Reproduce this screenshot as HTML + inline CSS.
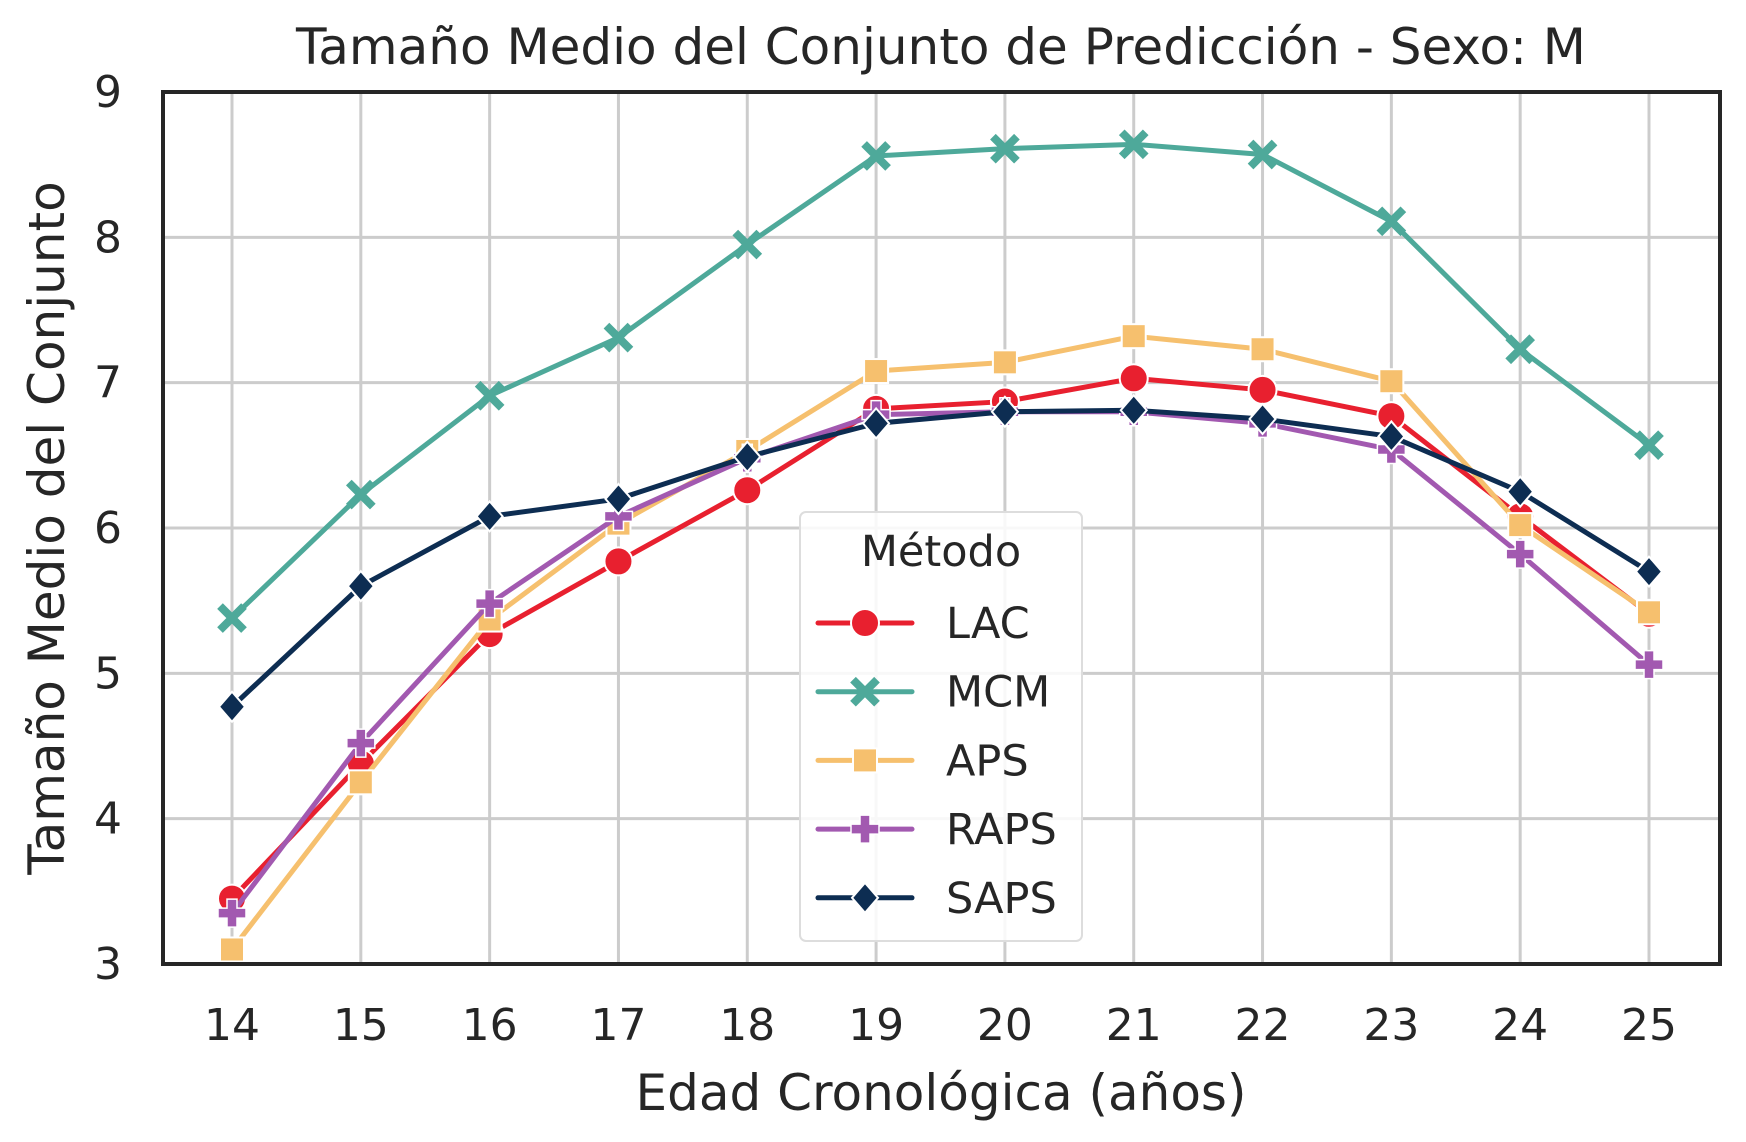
<!DOCTYPE html>
<html><head><meta charset="utf-8"><style>
body{margin:0;background:#fff}
svg{display:block;font-family:"DejaVu Sans","Liberation Sans",sans-serif}
</style></head><body>
<svg id="chart" width="1746" height="1142" viewBox="0 0 1746 1142">
<g id="grid"></g>
<g id="series"></g>
<rect x="163" y="92" width="1557" height="872" fill="none" stroke="#262626" stroke-width="4"/>
<g id="ticks"></g>
<text x="941" y="64" text-anchor="middle" font-size="50" fill="#262626">Tamaño Medio del Conjunto de Predicción - Sexo: M</text>
<text x="941" y="1110" text-anchor="middle" font-size="50" fill="#262626">Edad Cronológica (años)</text>
<text transform="translate(64,528) rotate(-90)" text-anchor="middle" font-size="50" fill="#262626">Tamaño Medio del Conjunto</text>
<g id="legend">
<rect x="800" y="512" width="282" height="429" rx="6" fill="#fff" fill-opacity="0.85" stroke="#ddd" stroke-width="2"/>
<text x="941" y="566" text-anchor="middle" font-size="43" fill="#262626">Método</text>
</g>
</svg>
<script>
const categories=[14,15,16,17,18,19,20,21,22,23,24,25];
const yTicks=[3,4,5,6,7,8,9];
const lac=[3.45,4.38,5.27,5.77,6.26,6.82,6.87,7.03,6.95,6.77,6.08,5.41];
const mcm=[5.38,6.23,6.91,7.31,7.95,8.56,8.61,8.64,8.57,8.11,7.23,6.57];
const aps=[3.1,4.25,5.37,6.03,6.53,7.08,7.14,7.32,7.23,7.01,6.02,5.42];
const raps=[3.35,4.52,5.48,6.08,6.48,6.78,6.8,6.8,6.72,6.54,5.82,5.06];
const saps=[4.77,5.6,6.08,6.2,6.49,6.72,6.8,6.81,6.75,6.63,6.25,5.7];
const seriesNames=["LAC","MCM","APS","RAPS","SAPS"];
const NS="http://www.w3.org/2000/svg";
const X=v=>232+(v-14)*(1649-232)/11;
const Y=v=>964-(v-3)*(872/6);
function mk(tag,attrs,parent){const e=document.createElementNS(NS,tag);for(const k in attrs)e.setAttribute(k,attrs[k]);parent.appendChild(e);return e;}
const grid=document.getElementById('grid'),ticks=document.getElementById('ticks');
categories.forEach(c=>{
  const l=mk('line',{x1:X(c),x2:X(c),y1:92,y2:964,stroke:'#cccccc','stroke-width':3},grid);
  
  
  const t=mk('text',{x:X(c),y:1040,'text-anchor':'middle','font-size':44,fill:'#262626'},ticks);
  t.textContent=c;
  
  
});
yTicks.forEach(v=>{
  const l=mk('line',{x1:163,x2:1720,y1:Y(v),y2:Y(v),stroke:'#cccccc','stroke-width':3},grid);
  
  
  const t=mk('text',{x:122,y:Y(v)+15,'text-anchor':'end','font-size':44,fill:'#262626'},ticks);
  t.textContent=v;
  
  
});
const colors=['#e8202f','#4ea99a','#f6c06e','#a259b0','#0d2d52'];
const shapes=['circle','x','square','plus','diamond'];
function marker(shape,cx,cy,col,g){
  let e;
  if(shape==='circle')e=mk('circle',{cx,cy,r:14,fill:col,stroke:'#fff','stroke-width':2},g);
  else if(shape==='square')e=mk('rect',{x:cx-12,y:cy-12,width:24,height:24,fill:col,stroke:'#fff','stroke-width':2},g);
  else if(shape==='diamond')e=mk('path',{d:`M${cx} ${cy-15}L${cx+13} ${cy}L${cx} ${cy+15}L${cx-13} ${cy}Z`,fill:col,stroke:'#fff','stroke-width':2},g);
  else if(shape==='plus')e=mk('path',{d:`M${cx-5} ${cy-14}h10v9h9v10h-9v9h-10v-9h-9v-10h9Z`,fill:col,stroke:'#fff','stroke-width':1.5},g);
  else e=mk('path',{d:`M${cx-12} ${cy-12}L${cx+12} ${cy+12}M${cx+12} ${cy-12}L${cx-12} ${cy+12}`,stroke:col,'stroke-width':8},g);
  return e;
}
const sg=document.getElementById('series'),lg=document.getElementById('legend');
[lac,mcm,aps,raps,saps].forEach((data,i)=>{
  const g=mk('g',{},sg);
  
  
  const p=mk('polyline',{points:data.map((v,j)=>X(categories[j])+','+Y(v)).join(' '),fill:'none',stroke:colors[i],'stroke-width':5,'stroke-linejoin':'round'},g);
  
  
  data.forEach((v,j)=>{
    const m=marker(shapes[i],X(categories[j]),Y(v),colors[i],g);
    
    
  });
  const ly=623+i*68.7;
  const le=mk('g',{},lg);
  
  
  mk('line',{x1:818,x2:912,y1:ly,y2:ly,stroke:colors[i],'stroke-width':5,'stroke-linecap':'round'},le);
  marker(shapes[i],865,ly,colors[i],le);
  const t=mk('text',{x:946,y:ly+15,'font-size':43,fill:'#262626'},le);
  t.textContent=seriesNames[i];
});
</script>
</body></html>
